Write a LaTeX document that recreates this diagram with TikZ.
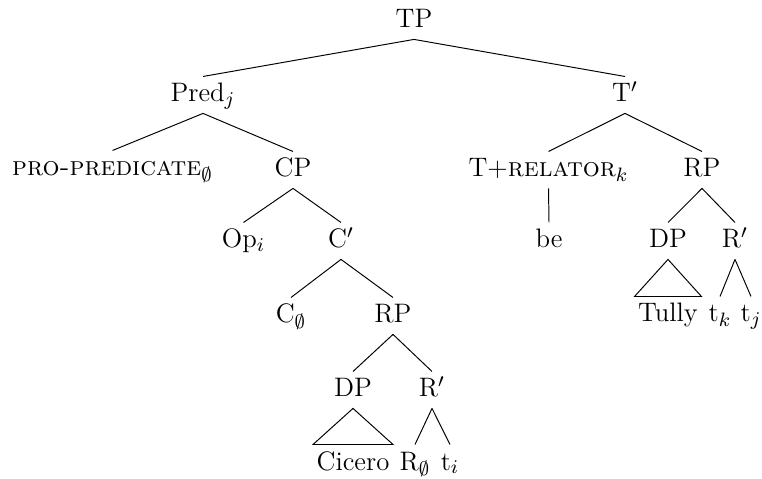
\documentclass[tikz,border=0pt]{standalone}
\begin{document}
\begin{tikzpicture}[x=0.4116pt,y=-0.4116pt,
  font=\fontsize{11}{13.2}\selectfont,
  lbl/.style={anchor=base, inner xsep=1.3pt, inner ysep=2pt, text height=8.3pt, text depth=2.5pt},
  branch/.style={line width=0.4pt}]
\useasboundingbox (0,0) rectangle (762,479);
% level 0
\node[lbl] (tp) at (414,28) {TP};
% level 1
\node[lbl] (pred) at (203,102) {Pred$_j$};
\node[lbl] (tbar) at (625,102) {T$'$};
% level 2
\node[lbl] (pro) at (112.5,176) {\textsc{pro-predicate}$_\emptyset$};
\node[lbl] (cp) at (293,177) {CP};
\node[lbl] (trel) at (548.5,177) {T+\textsc{relator}$_k$};
\node[lbl] (rp2) at (702,177) {RP};
% level 3
\node[lbl] (op) at (243.5,248) {Op$_i$};
\node[lbl] (cbar) at (341,248) {C$'$};
\node[lbl] (be) at (549,248) {be};
\node[lbl] (dp2) at (668,248) {DP};
\node[lbl] (rbar2) at (735,248) {R$'$};
% level 4
\node[lbl] (c0) at (291,323) {C$_\emptyset$};
\node[lbl] (rp1) at (393,323) {RP};
\node[lbl] (tully) at (668,322) {Tully};
\node[lbl] (tk) at (720,322) {t$_k$};
\node[lbl] (tj) at (751,322) {t$_j$};
% level 5
\node[lbl] (dp1) at (353,397) {DP};
\node[lbl] (rbar1) at (432,397) {R$'$};
% level 6
\node[lbl] (cic) at (353,470) {Cicero};
\node[lbl] (r0) at (415,470) {R$_\emptyset$};
\node[lbl] (ti) at (450,470) {t$_i$};
% branches
\draw[branch] (tp.south) -- (pred.north);
\draw[branch] (tp.south) -- (tbar.north);
\draw[branch] (pred.south) -- (pro.north);
\draw[branch] (pred.south) -- (cp.north);
\draw[branch] (tbar.south) -- (trel.north);
\draw[branch] (tbar.south) -- (rp2.north);
\draw[branch] (cp.south) -- (op.north);
\draw[branch] (cp.south) -- (cbar.north);
\draw[branch] (trel.south) -- (be.north);
\draw[branch] (rp2.south) -- (dp2.north);
\draw[branch] (rp2.south) -- (rbar2.north);
\draw[branch] (cbar.south) -- (c0.north);
\draw[branch] (cbar.south) -- (rp1.north);
\draw[branch] (dp2.south) -- (tully.north west) -- (tully.north east) -- cycle;
\draw[branch] (rbar2.south) -- (tk.north);
\draw[branch] (rbar2.south) -- (tj.north);
\draw[branch] (rp1.south) -- (dp1.north);
\draw[branch] (rp1.south) -- (rbar1.north);
\draw[branch] (dp1.south) -- (cic.north west) -- (cic.north east) -- cycle;
\draw[branch] (rbar1.south) -- (r0.north);
\draw[branch] (rbar1.south) -- (ti.north);
\end{tikzpicture}
\end{document}
